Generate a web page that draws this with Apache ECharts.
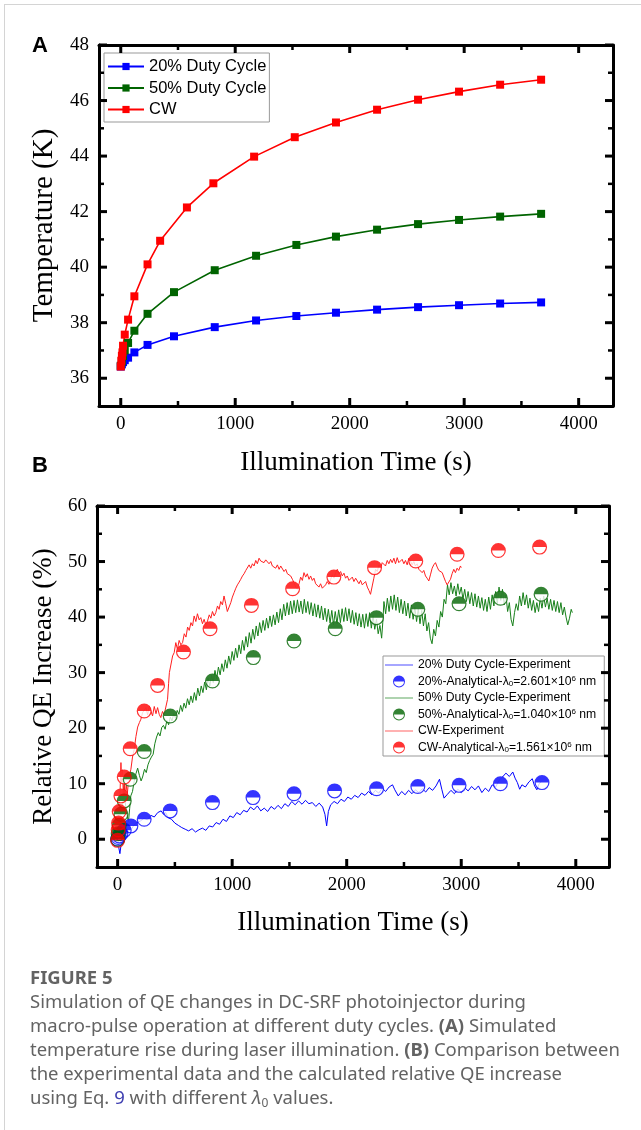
<!DOCTYPE html>
<html><head><meta charset="utf-8">
<script src="https://cdn.jsdelivr.net/npm/echarts@6/dist/echarts.min.js"></script>
<style>
html,body{margin:0;padding:0;background:#fff;overflow:hidden;width:641px;height:1130px}
#chart{position:absolute;left:0;top:0;width:641px;height:1130px}
#frame{position:absolute;left:4px;top:4px;width:640px;height:1130px;border-left:1px solid #d4d4d4;border-top:1px solid #d4d4d4;pointer-events:none}
#cap{position:absolute;left:30px;top:965px;font-family:"Noto Sans","Open Sans",sans-serif;font-size:18.5px;line-height:24px;color:#636363;white-space:nowrap}
#cap .fig{font-weight:bold}
#cap .ref{color:#3f3fb0}
#cap sub{font-size:12px;vertical-align:-3px;line-height:0}
</style></head><body>
<div id="chart"></div>
<div id="frame"></div>
<div id="cap"><div class="fig">FIGURE 5</div>Simulation of QE changes in DC-SRF photoinjector during<br>macro-pulse operation at different duty cycles. <b>(A)</b> Simulated<br>temperature rise during laser illumination. <b>(B)</b> Comparison between<br>the experimental data and the calculated relative QE increase<br>using Eq. <span class="ref">9</span> with different <i>λ</i><sub>0</sub> values.</div>
<script>
// ---------- Panel A data ----------
const tA20 = [0,10,20,35,64,119,234,465,821,1182,1534,1880,2239,2597,2955,3314,3672];
const TA20 = [36.42,36.5,36.58,36.65,36.74,36.93,37.2,37.51,37.84,38.08,38.24,38.36,38.47,38.56,38.63,38.69,38.73];
const tA50 = [0,10,20,35,64,119,234,465,821,1182,1534,1880,2239,2597,2955,3314,3672];
const TA50 = [36.45,36.6,36.8,37.0,37.27,37.71,38.32,39.1,39.89,40.41,40.8,41.1,41.35,41.55,41.7,41.82,41.92];
const tACW = [0,5,10,15,20,35,64,119,234,344,578,809,1165,1520,1880,2239,2597,2955,3314,3672];
const TACW = [36.42,36.63,36.81,36.93,37.17,37.57,38.11,38.95,40.1,40.95,42.15,43.02,43.98,44.68,45.21,45.67,46.03,46.32,46.57,46.75];
const xRangeA = [-190, 4300];
const yRangeA = [35, 48];
const xTicksMajor = [0,1000,2000,3000,4000];
const xTicksMinor = [500,1500,2500,3500];
const yTicksMajorA = [36,38,40,42,44,46,48];
const yTicksMinorA = [37,39,41,43,45,47];
// ---------- Panel B data ----------
const exp20 = [[0,0.5],[10,-1.5],[20,-2.6],[30,-1.0],[45,0.5],[60,1.0],[80,1.5],[100,2.2],[120,1.8],[145,2.6],[170,3.0],[200,3.3],[230,3.8],[260,3.5],[290,4.3],[320,4.0],[350,4.8],[380,5.1],[400,4.5],[420,4.8],[440,3.9],[470,3.6],[500,2.9],[530,2.5],[560,2.1],[590,1.8],[620,1.5],[650,1.9],[680,1.3],[710,1.7],[740,2.0],[770,1.6],[800,2.4],[830,2.2],[860,3.0],[890,2.7],[920,3.6],[950,3.2],[980,4.2],[1010,3.9],[1040,4.8],[1070,4.4],[1100,5.2],[1130,4.9],[1160,5.8],[1190,5.3],[1220,6.0],[1250,5.1],[1280,5.6],[1310,5.0],[1340,5.9],[1370,5.4],[1400,6.1],[1430,5.5],[1460,6.4],[1490,5.9],[1520,6.8],[1550,6.2],[1580,6.9],[1610,6.3],[1640,7.0],[1670,6.4],[1700,6.6],[1730,5.9],[1760,6.5],[1790,5.8],[1810,4.5],[1825,2.4],[1840,5.0],[1860,6.2],[1890,6.8],[1920,6.4],[1950,7.2],[1980,6.8],[2010,7.6],[2040,7.2],[2070,7.9],[2100,7.5],[2130,8.3],[2160,7.9],[2190,8.6],[2220,8.0],[2250,8.8],[2280,8.3],[2310,9.2],[2340,8.6],[2370,9.4],[2400,9.8],[2420,8.9],[2450,7.8],[2480,8.6],[2510,8.0],[2540,8.8],[2570,8.2],[2600,8.9],[2630,8.4],[2660,9.1],[2690,8.5],[2720,9.3],[2750,8.8],[2780,9.6],[2810,10.8],[2830,9.0],[2850,7.4],[2880,8.1],[2910,8.8],[2940,8.2],[2970,9.0],[3000,8.4],[3030,9.3],[3060,8.7],[3090,9.5],[3120,8.9],[3150,9.6],[3180,8.4],[3210,9.2],[3240,8.6],[3270,9.8],[3300,9.4],[3330,10.6],[3360,11.2],[3390,11.9],[3420,11.3],[3450,12.1],[3470,11.0],[3490,10.2],[3510,9.0],[3530,9.8],[3560,9.4],[3590,10.3],[3620,10.9],[3640,9.6],[3660,8.9],[3680,10.0],[3700,10.4]];
const exp50 = [[0,0.2],[8,1.5],[15,3.0],[22,5.5],[30,6.2],[40,4.8],[50,8.5],[58,9.8],[65,7.0],[75,5.0],[85,4.0],[95,3.2],[105,5.5],[115,7.8],[130,8.6],[145,10.5],[160,11.8],[175,12.8],[190,11.5],[205,10.5],[218,11.2],[235,12.6],[250,12.0],[265,13.4],[280,14.2],[295,14.8],[310,15.3],[325,17.2],[340,18.4],[355,19.2],[370,18.6],[385,20.1],[400,20.5],[415,19.8],[430,21.4],[445,20.6],[460,22.0],[475,21.3],[490,22.6],[505,21.8],[520,23.2],[535,22.5],[550,24.1],[565,23.0],[580,24.5],[595,23.6],[610,25.3],[625,24.2],[640,25.8],[655,24.6],[670,26.4],[685,25.0],[700,27.2],[715,25.8],[730,27.6],[745,26.4],[760,28.3],[775,26.9],[790,29.0],[805,27.6],[820,29.5],[835,28.2],[850,30.4],[865,28.9],[880,31.0],[895,29.6],[910,31.6],[925,30.2],[940,32.3],[955,30.8],[970,33.0],[985,31.5],[1000,33.8],[1015,32.2],[1030,34.4],[1045,32.7],[1060,35.0],[1075,33.4],[1090,35.8],[1105,34.0],[1120,36.5],[1135,34.6],[1150,37.2],[1165,35.3],[1180,37.8],[1195,36.0],[1210,38.4],[1225,36.6],[1240,39.0],[1255,37.2],[1270,39.4],[1285,37.6],[1300,39.8],[1315,38.0],[1330,40.2],[1345,38.3],[1360,40.4],[1375,38.6],[1390,40.9],[1405,39.0],[1420,41.5],[1435,39.5],[1450,42.3],[1465,40.2],[1480,42.6],[1495,40.4],[1510,42.9],[1525,40.6],[1540,43.0],[1555,40.8],[1570,43.1],[1585,40.9],[1600,42.9],[1615,40.6],[1630,43.2],[1645,40.8],[1660,42.8],[1675,40.5],[1690,42.6],[1705,40.2],[1720,42.4],[1735,40.0],[1750,42.2],[1765,39.8],[1780,42.0],[1795,39.5],[1810,41.6],[1825,39.2],[1840,41.4],[1855,38.9],[1870,41.2],[1885,38.6],[1900,41.0],[1915,38.8],[1930,41.3],[1945,39.0],[1960,41.5],[1975,39.2],[1990,41.7],[2005,39.3],[2020,41.5],[2035,39.0],[2050,41.2],[2065,38.7],[2080,40.8],[2095,38.4],[2110,40.6],[2125,38.2],[2140,40.5],[2155,38.0],[2170,40.6],[2185,38.3],[2200,40.8],[2215,38.0],[2230,40.3],[2245,37.8],[2260,39.6],[2275,37.0],[2290,38.5],[2305,36.2],[2315,39.0],[2325,42.8],[2340,40.6],[2355,43.4],[2370,41.0],[2385,43.8],[2400,41.4],[2415,44.0],[2430,41.2],[2445,43.6],[2460,40.8],[2475,43.2],[2490,40.6],[2505,42.9],[2520,40.2],[2535,42.5],[2550,39.8],[2565,42.2],[2580,39.6],[2595,41.8],[2610,39.2],[2625,41.5],[2640,38.8],[2655,41.2],[2670,38.4],[2685,40.6],[2700,37.5],[2715,39.0],[2730,36.2],[2745,35.2],[2760,37.8],[2775,36.6],[2790,39.4],[2805,38.2],[2820,41.0],[2835,40.0],[2850,43.2],[2865,42.4],[2880,45.8],[2895,44.0],[2910,46.2],[2925,44.2],[2940,45.6],[2955,43.8],[2970,46.0],[2985,44.1],[3000,45.4],[3015,43.2],[3030,45.0],[3045,42.8],[3060,44.6],[3075,42.4],[3090,44.4],[3105,42.0],[3120,44.2],[3135,41.8],[3150,43.8],[3165,41.6],[3180,43.5],[3195,41.2],[3210,43.2],[3225,41.0],[3240,43.6],[3255,41.4],[3270,44.0],[3285,42.0],[3300,44.6],[3315,42.4],[3330,45.4],[3345,43.0],[3360,45.0],[3375,42.2],[3390,44.0],[3405,41.0],[3420,42.6],[3435,39.6],[3450,38.4],[3465,40.8],[3480,42.4],[3495,41.2],[3510,43.8],[3525,42.0],[3540,44.4],[3555,42.2],[3570,44.0],[3585,41.6],[3600,43.4],[3615,41.2],[3630,43.0],[3645,40.8],[3660,42.6],[3675,41.0],[3690,43.4],[3705,41.6],[3720,43.8],[3735,41.8],[3750,43.4],[3765,41.4],[3780,43.2],[3795,41.2],[3810,43.0],[3825,41.0],[3840,42.8],[3855,40.8],[3870,42.6],[3885,40.4],[3900,41.8],[3915,40.0],[3930,38.6],[3945,39.8],[3960,41.4],[3970,40.8]];
const expCW = [[0,0.5],[8,3.0],[15,6.0],[22,9.0],[29,13.8],[35,10.2],[42,12.5],[50,8.0],[58,10.5],[66,7.5],[75,9.8],[85,8.2],[95,10.5],[105,11.6],[116,12.6],[130,14.8],[145,16.2],[160,18.5],[175,20.2],[190,21.0],[203,21.6],[218,22.8],[232,23.2],[247,23.7],[262,22.4],[276,24.0],[290,23.1],[305,22.2],[320,23.9],[335,22.6],[349,23.7],[363,22.5],[377,21.9],[392,23.0],[406,22.4],[421,23.8],[436,25.2],[445,28.0],[452,30.0],[465,30.3],[480,33.0],[494,33.6],[508,35.4],[522,34.2],[537,35.8],[552,35.0],[567,35.4],[582,37.0],[597,36.4],[611,38.2],[625,37.6],[640,39.0],[654,38.4],[668,40.2],[683,39.2],[697,40.6],[712,39.5],[726,39.9],[741,38.8],[755,39.6],[770,38.6],[785,39.3],[800,40.4],[814,39.8],[828,41.0],[843,40.2],[857,40.8],[872,42.0],[886,41.4],[900,42.8],[915,42.2],[929,43.8],[944,42.4],[958,41.0],[973,40.8],[988,42.6],[1002,43.6],[1017,44.4],[1032,45.2],[1046,45.8],[1061,46.3],[1075,46.8],[1090,47.4],[1104,47.8],[1119,48.4],[1133,48.6],[1148,49.4],[1162,48.8],[1177,49.6],[1191,49.2],[1206,50.2],[1220,49.6],[1235,50.6],[1249,50.1],[1264,50.4],[1278,49.8],[1293,50.3],[1308,50.1],[1322,49.6],[1337,50.0],[1351,49.2],[1365,49.5],[1380,48.8],[1395,49.4],[1410,48.6],[1424,49.2],[1439,48.9],[1453,48.2],[1468,48.6],[1482,47.8],[1497,48.0],[1511,47.4],[1526,46.8],[1540,46.2],[1555,45.4],[1569,45.0],[1584,46.0],[1598,47.2],[1613,46.6],[1627,48.0],[1642,47.2],[1656,47.8],[1671,46.8],[1685,47.4],[1700,46.6],[1714,47.0],[1729,46.0],[1744,46.2],[1758,45.4],[1772,46.0],[1787,45.2],[1801,45.0],[1816,45.8],[1830,46.4],[1845,45.9],[1860,46.8],[1874,47.6],[1889,47.0],[1903,48.0],[1918,48.6],[1932,47.8],[1947,48.2],[1961,47.4],[1976,47.9],[1990,47.0],[2005,47.4],[2020,46.6],[2034,46.5],[2049,47.2],[2063,46.4],[2078,47.0],[2092,46.8],[2107,46.0],[2121,46.6],[2136,45.8],[2150,45.6],[2165,46.4],[2180,45.4],[2194,44.8],[2208,44.1],[2223,45.6],[2237,47.0],[2252,48.6],[2267,48.2],[2281,49.4],[2296,48.8],[2310,49.8],[2324,49.8],[2339,49.2],[2354,50.2],[2368,49.6],[2383,50.4],[2397,49.8],[2412,50.6],[2426,49.6],[2441,50.7],[2455,49.8],[2470,49.8],[2484,50.4],[2499,49.6],[2513,50.2],[2528,49.4],[2542,50.6],[2557,50.1],[2571,49.4],[2586,50.0],[2600,49.2],[2615,49.6],[2630,48.6],[2644,48.9],[2659,48.0],[2673,48.4],[2688,47.4],[2702,47.0],[2717,46.5],[2731,47.6],[2746,48.8],[2760,49.4],[2775,49.8],[2790,49.0],[2804,48.4],[2819,48.6],[2834,48.0],[2848,47.2],[2863,46.4],[2877,45.8],[2891,45.6],[2906,46.8],[2920,47.8],[2935,48.6],[2949,48.0],[2964,48.8],[2978,48.4],[2993,49.2],[3000,48.9]];
const aT20 = [0,5,14,29,58,116,232,459,828,1182,1540,1894,2261,2621,2981,3342,3705];
const a20  = [0,0.3,0.6,1.0,1.6,2.4,3.6,5.1,6.6,7.5,8.2,8.7,9.1,9.5,9.7,10.0,10.2];
const aT50 = [0,5,14,29,58,110,232,459,828,1185,1540,1900,2260,2621,2981,3342,3697];
const a50  = [0,1.0,2.5,4.5,6.9,10.8,15.8,22.2,28.5,32.7,35.7,37.9,39.9,41.4,42.4,43.4,44.1];
const aTCW = [0,5,8,14,29,58,110,232,349,575,807,1168,1528,1888,2243,2603,2964,3324,3684];
const aCW  = [-0.2,1.7,2.9,5.0,7.8,11.2,16.3,23.1,27.7,33.7,37.9,42.1,45.1,47.2,48.9,50.1,51.3,52.0,52.6];
const xRangeB = [-180, 4290];
const yRangeB = [-5, 60];
const yTicksMajorB = [0,10,20,30,40,50,60];
const yTicksMinorB = [5,15,25,35,45,55];

// ---------- helpers ----------
const zip = (xs, ys) => xs.map((x, i) => [x, ys[i]]);
const SERIF = 'Liberation Serif';
const SANS = 'Liberation Sans';
const BLK = '#000';
const HALF = 'path://M0,50 A50,50 0 1,1 100,50 A50,50 0 1,1 0,50 Z M8,50 A42,42 0 1,0 92,50 A42,42 0 1,0 8,50 Z M8,50 A42,42 0 0,1 92,50 Z';
const LINEICON = 'path://M0,0 H40 V1 H0 Z';

function axisPair(dim, g, range, labels, name, nameGap, posA, posB, nameSize) {
  const base = {type: 'value', gridIndex: g, min: range[0], max: range[1], splitLine: {show: false}, axisTick: {show: false}};
  const lineOn = {show: true, onZero: false, lineStyle: {color: BLK, width: 3}};
  return [
    Object.assign({}, base, {position: posA, axisLine: lineOn,
      axisLabel: {show: true, customValues: labels, margin: dim === 'x' ? 9 : 10, color: BLK, fontFamily: SERIF, fontSize: 19,
        formatter: function (v) { return String(v); }},
      name: name, nameLocation: 'middle', nameGap: nameGap,
      nameTextStyle: {fontFamily: SERIF, fontSize: nameSize, color: BLK}}),
    Object.assign({}, base, {position: posB, axisLine: lineOn, axisLabel: {show: false}})
  ];
}

const xAxes = [].concat(
  axisPair('x', 0, xRangeA, xTicksMajor, 'Illumination Time (s)', 43, 'bottom', 'top', 27),
  axisPair('x', 1, xRangeB, xTicksMajor, 'Illumination Time (s)', 42, 'bottom', 'top', 27)
);
const yAxes = [].concat(
  axisPair('y', 0, yRangeA, yTicksMajorA, 'Temperature (K)', 30, 'left', 'right', 29),
  axisPair('y', 1, yRangeB, yTicksMajorB, 'Relative QE Increase (%)', 38, 'left', 'right', 27)
);

// inward tick marks on the four sides: small rect symbols placed through the axes' scales
function tickMarks(axIdx, xVals, yVals, xRange, yRange, len, w) {
  const mk = (data, size, offset) => ({
    type: 'scatter', xAxisIndex: axIdx, yAxisIndex: axIdx, data: data, silent: true, clip: false, z: 10,
    symbol: 'rect', symbolSize: size, symbolOffset: offset, itemStyle: {color: BLK, opacity: 1},
    emphasis: {disabled: true}
  });
  return [
    mk(xVals.map(v => [v, yRange[0]]), [w, len], [0, -len / 2]),
    mk(xVals.map(v => [v, yRange[1]]), [w, len], [0, len / 2]),
    mk(yVals.map(v => [xRange[0], v]), [len, w], [len / 2, 0]),
    mk(yVals.map(v => [xRange[1], v]), [len, w], [-len / 2, 0])
  ];
}

const lineA = (name, xs, ys, color) => ({
  type: 'line', name: name, xAxisIndex: 0, yAxisIndex: 0, data: zip(xs, ys),
  symbol: 'rect', symbolSize: 8, showSymbol: true,
  lineStyle: {color: color, width: 1.6}, itemStyle: {color: color}, z: 3
});
const expB = (name, data, color, w) => ({
  type: 'line', name: name, xAxisIndex: 2, yAxisIndex: 2, data: data,
  symbol: 'none', showSymbol: false, lineStyle: {color: color, width: w}, itemStyle: {color: color}, z: 2
});
const backB = (xs, ys) => ({
  type: 'scatter', xAxisIndex: 2, yAxisIndex: 2, data: zip(xs, ys), silent: true,
  symbol: 'circle', symbolSize: 14, itemStyle: {color: '#fff'}, z: 3
});
const halfB = (name, xs, ys, color) => ({
  type: 'scatter', name: name, xAxisIndex: 2, yAxisIndex: 2, data: zip(xs, ys),
  symbol: HALF, symbolSize: 15, itemStyle: {color: color}, z: 4
});

const N20 = '20%-Analytical-λ0=2.601×10^6 nm';
const N50 = '50%-Analytical-λ0=1.040×10^6 nm';
const NCW = 'CW-Analytical-λ0=1.561×10^6 nm';
const richName = {};
richName[N20] = '{t|20%-Analytical-λ}{sub|0}{t|=2.601×10}{sup|6}{t| nm}';
richName[N50] = '{t|50%-Analytical-λ}{sub|0}{t|=1.040×10}{sup|6}{t| nm}';
richName[NCW] = '{t|CW-Analytical-λ}{sub|0}{t|=1.561×10}{sup|6}{t| nm}';

const option = {
  animation: false,
  backgroundColor: '#fff',
  grid: [
    {left: 99, top: 45, width: 514, height: 361, containLabel: false, outerBoundsMode: 'none'},
    {left: 97, top: 506, width: 512, height: 361, containLabel: false, outerBoundsMode: 'none'}
  ],
  xAxis: xAxes,
  yAxis: yAxes,
  legend: [
    {
      orient: 'vertical', left: 104, top: 53, selectedMode: false,
      data: ['20% Duty Cycle', '50% Duty Cycle', 'CW'],
      itemWidth: 36, itemHeight: 9, itemGap: 4.5,
      borderColor: '#999', borderWidth: 1, borderRadius: 0, padding: [5, 3, 4, 3], backgroundColor: '#fff',
      textStyle: {fontFamily: SANS, fontSize: 16.5, lineHeight: 16, color: BLK}
    },
    {
      orient: 'vertical', left: 383, top: 656, selectedMode: false,
      data: [
        {name: '20% Duty Cycle-Experiment', icon: LINEICON},
        {name: N20, icon: HALF},
        {name: '50% Duty Cycle-Experiment', icon: LINEICON},
        {name: N50, icon: HALF},
        {name: 'CW-Experiment', icon: LINEICON},
        {name: NCW, icon: HALF}
      ],
      itemWidth: 28, itemHeight: 12, itemGap: 4,
      borderColor: '#999', borderWidth: 1, borderRadius: 0, padding: [3, 8, 2, 2], backgroundColor: '#fff',
      formatter: function (n) { return richName[n] || ('{t|' + n + '}'); },
      textStyle: {
        fontFamily: SANS, fontSize: 12.2, color: BLK,
        rich: {
          t: {fontFamily: SANS, fontSize: 12.2, lineHeight: 13, color: BLK},
          sub: {fontFamily: SANS, fontSize: 8, lineHeight: 7, verticalAlign: 'bottom', color: BLK},
          sup: {fontFamily: SANS, fontSize: 8, lineHeight: 7, verticalAlign: 'top', color: BLK}
        }
      }
    }
  ],
  graphic: [
    {type: 'text', left: 32, top: 35, style: {text: 'A', font: 'bold 22px "Liberation Sans"', fill: BLK}},
    {type: 'text', left: 32, top: 455, style: {text: 'B', font: 'bold 22px "Liberation Sans"', fill: BLK}}
  ],
  series: [
    lineA('20% Duty Cycle', tA20, TA20, '#0000ff'),
    lineA('50% Duty Cycle', tA50, TA50, '#006400'),
    lineA('CW', tACW, TACW, '#ff0000'),
    expB('20% Duty Cycle-Experiment', exp20, '#0000ff', 1),
    expB('50% Duty Cycle-Experiment', exp50, '#17801a', 1),
    expB('CW-Experiment', expCW, '#ff2020', 1),
    backB(aT20, a20), halfB(N20, aT20, a20, '#0000ff'),
    backB(aT50, a50), halfB(N50, aT50, a50, '#006400'),
    backB(aTCW, aCW), halfB(NCW, aTCW, aCW, '#ff0000')
  ].concat(
    tickMarks(0, xTicksMajor, yTicksMajorA, xRangeA, yRangeA, 8, 3),
    tickMarks(0, xTicksMinor, yTicksMinorA, xRangeA, yRangeA, 5, 2.5),
    tickMarks(2, xTicksMajor, yTicksMajorB, xRangeB, yRangeB, 8, 3),
    tickMarks(2, xTicksMinor, yTicksMinorB, xRangeB, yRangeB, 5, 2.5)
  )
};
const chart = echarts.init(document.getElementById('chart'), null, {renderer: 'canvas'});
chart.setOption(option);
</script>
</body></html>
